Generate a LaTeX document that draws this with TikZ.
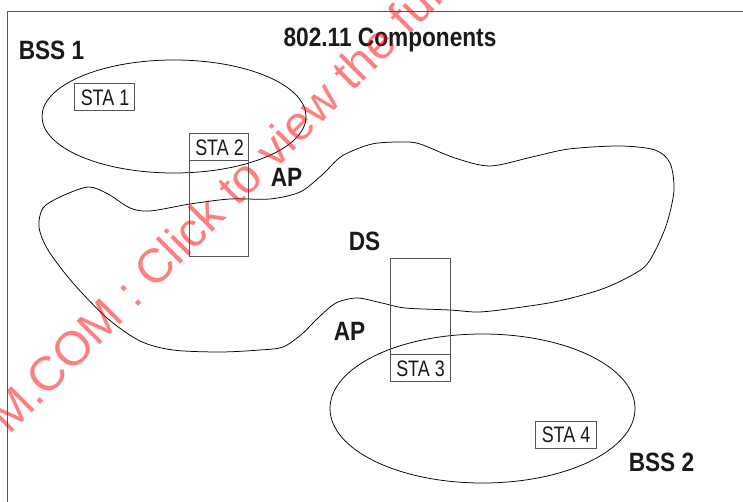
\documentclass[tikz,border=0pt]{standalone}
\usepackage{fontspec}
\setmainfont{Liberation Sans}
\newfontfamily\narrowbold[FakeStretch=0.855]{Liberation Sans Bold}
\newfontfamily\narrowreg[FakeStretch=0.8]{Liberation Sans}
\usetikzlibrary{shapes.geometric}
\definecolor{framegray}{RGB}{85,85,85}
\tikzset{
  heading/.style={inner sep=0pt,font=\narrowbold\fontsize{26.5}{28}\selectfont,text=black!90},
  stalabel/.style={inner sep=0pt,font=\narrowreg\fontsize{22.4}{24}\selectfont,text=black!90},
  box/.style={draw=framegray,line width=1pt,rectangle,inner sep=0pt,minimum width=60pt},
  bss/.style={draw=black,line width=.75pt,ellipse,inner sep=0pt},
  blob/.style={draw=black,line width=.75pt},
  mark text/.style={font=\fontsize{48}{50}\selectfont,text=red,opacity=.5,inner sep=0pt,anchor=base west,rotate=45}
}
\begin{document}
\begin{tikzpicture}[x=1pt,y=-1pt]
\useasboundingbox (0,0) rectangle (743,502);
\begin{scope}
\clip (0,0) rectangle (743,502);
\draw[framegray,line width=1pt] (7.5,502) -- (7.5,12) -- (743,12);
\node[bss,minimum width=264pt,minimum height=113pt] (bssa) at (174,116.5) {};
\node[bss,minimum width=305pt,minimum height=149pt] (bssb) at (482.5,408.5) {};
\draw[blob] plot[smooth cycle,tension=.5] coordinates {
 (88,187) (108,194) (130,208) (150,211) (190,204) (230,199) (270,199) (300,192) (322,175) (342,156) (372,144)
 (403,142) (420,144) (455,158) (490,166) (532,157) (569,149) (620,146) (655,150) (670,163) (674,190) (667,223)
 (655,251) (642,269) (605,288) (559,301) (515,308) (479,312) (450,310) (405,308) (382,303) (357,298) (336,303)
 (318,318) (302,334) (283,347) (260,350) (220,352) (173,350) (140,341) (107,318) (73,283) (48,250) (39,227)
 (43,208) (60,197)};
\node[box,minimum height=26.5pt,minimum width=59.6pt] (sta1) at (104.5,97) {};
\node[stalabel] (sta1t) at (105,97.5) {STA 1};
\node[box,minimum height=123pt,minimum width=59.6pt] (ap1) at (219,195.3) {};
\node[box,minimum height=26.5pt,minimum width=59.6pt] (sta2) at (219,147) {};
\node[stalabel] (sta2t) at (219.5,148) {STA 2};
\node[box,minimum height=123.4pt,minimum width=60.4pt] (ap2) at (420.5,320) {};
\node[box,minimum height=27pt,minimum width=60.4pt] (sta3) at (420.5,368.2) {};
\node[stalabel] (sta3t) at (420.5,368.5) {STA 3};
\node[box,minimum height=27pt,minimum width=60.4pt] (sta4) at (566,434.5) {};
\node[stalabel] (sta4t) at (566,435) {STA 4};
\node[heading] (title) at (390,40) {802.11 Components};
\node[heading] (bssat) at (51.5,50) {BSS 1};
\node[heading] (bssbt) at (661.5,462) {BSS 2};
\node[heading] (apat) at (286.5,177) {AP};
\node[heading] (apbt) at (349.5,331) {AP};
\node[heading] (dst) at (364.5,241) {DS};
\node[mark text] (wm) at (9,436) {M.COM : Click to view the full};
\end{scope}
\end{tikzpicture}
\end{document}
